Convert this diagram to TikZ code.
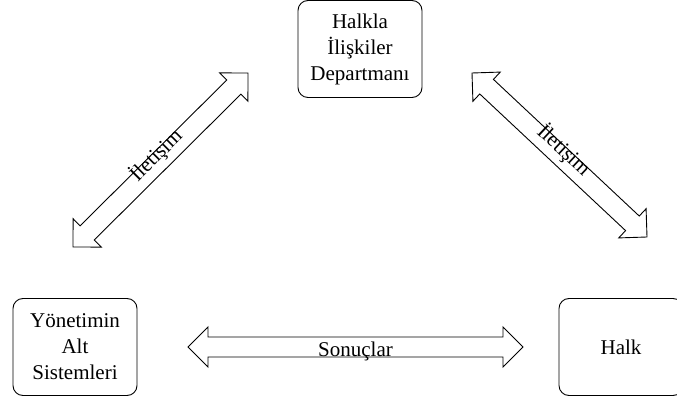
\documentclass[tikz,border=0pt]{standalone}
\usepackage{fontspec}
\setmainfont{Liberation Serif}
\usetikzlibrary{calc}

% blok ok: iki ucu olan kalin ok, #1 ile #2 arasi
\newcommand{\blokok}[2]{%
	\draw[blok] (#1) -- ($(#1)!20pt!(#2)!20pt!90:(#2)$) -- ($(#1)!20pt!(#2)!10pt!90:(#2)$)
		-- ($(#2)!20pt!(#1)!10pt!-90:(#1)$) -- ($(#2)!20pt!(#1)!20pt!-90:(#1)$) -- (#2)
		-- ($(#2)!20pt!(#1)!20pt!90:(#1)$) -- ($(#2)!20pt!(#1)!10pt!90:(#1)$)
		-- ($(#1)!20pt!(#2)!10pt!-90:(#2)$) -- ($(#1)!20pt!(#2)!20pt!-90:(#2)$) -- cycle;}

\begin{document}
\begin{tikzpicture}[x=1pt,y=-1pt,line width=0.9pt,font=\fontsize{21pt}{26pt}\selectfont,
	box/.style={draw, rounded corners=10pt, minimum width=124pt, minimum height=97pt, align=center, inner sep=2pt},
	blok/.style={draw, line join=miter},
	lbl/.style={anchor=base, inner sep=0pt}]
			\useasboundingbox (0,0) rectangle (677,403);
			\node (hid)  at (360, 49)  [box]  {Halkla\\İlişkiler\\Departmanı};
			\node (yas)  at (75, 347)  [box]  {Yönetimin\\Alt\\Sistemleri};
			\node (halk) at (621, 347) [box]  {Halk};
			% ok uclari
			\coordinate (ilA1) at (73, 247);
			\coordinate (ilA2) at (248, 73);
			\coordinate (ilB1) at (472, 73);
			\coordinate (ilB2) at (647, 237);
			\coordinate (so1)  at (188, 347);
			\coordinate (so2)  at (523, 347);
			\blokok{ilA1}{ilA2}
			\blokok{ilB1}{ilB2}
			\blokok{so1}{so2}
			\path let \p1 = ($(ilA2)-(ilA1)$) in
				node (ilAt) [lbl, rotate={atan2(\y1,\x1)}] at ($(ilA1)!0.5!(ilA2)$) {İletişim};
			\path let \p1 = ($(ilB2)-(ilB1)$) in
				node (ilBt) [lbl, rotate={atan2(\y1,\x1)}] at ($(ilB1)!0.5!(ilB2)$) {İletişim};
			\node (sot) [lbl] at ($(so1)!0.5!(so2)+(0,9)$) {Sonuçlar};
		\end{tikzpicture}
\end{document}
